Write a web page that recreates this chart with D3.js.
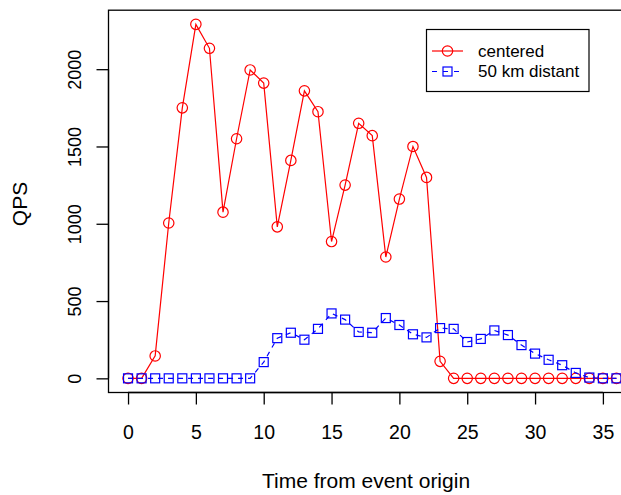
<!DOCTYPE html>
<html>
<head>
<meta charset="utf-8">
<script src="https://cdn.jsdelivr.net/npm/d3@7"></script>
<style>
  html, body { margin: 0; padding: 0; background: #fff; }
  svg { display: block; }
  text { font-family: "Liberation Sans", Arial, Helvetica, sans-serif; fill: #000; }
</style>
</head>
<body>
<svg id="chart" width="621" height="495"></svg>
<script>
// ---- data ----
const times = d3.range(0, 37); // 0..36
const centered = [0, 0, 145, 1005, 1750, 2290, 2135, 1075, 1550, 1995, 1910,
  980, 1410, 1860, 1725, 885, 1250, 1650, 1570, 785, 1160, 1500, 1300, 110,
  0, 0, 0, 0, 0, 0, 0, 0, 0, 0, 0, 0, 0];
const distant = [0, 0, 0, 0, 0, 0, 0, 0, 0, 0, 105, 260, 295, 250, 320, 420,
  380, 300, 295, 390, 345, 285, 265, 325, 320, 235, 255, 310, 280, 215, 160,
  120, 85, 35, 5, 0, 0];
const xTicks = [0, 5, 10, 15, 20, 25, 30, 35];
const yTicks = [0, 500, 1000, 1500, 2000];
const seriesNames = ["centered", "50 km distant"];

// ---- layout ----
const svg = d3.select("#chart");
const xmin = 0, xmax = 36, ymin = 0, ymax = 2290;
const xpad = (xmax - xmin) * 0.04, ypad = (ymax - ymin) * 0.04;
const x = d3.scaleLinear().domain([xmin - xpad, xmax + xpad]).range([108.5, 636]);
const y = d3.scaleLinear().domain([ymin - ypad, ymax + ypad]).range([392.5, 10.2]);

// box
svg.append("rect")
  .attr("x", x.range()[0]).attr("y", y.range()[1])
  .attr("width", x.range()[1] - x.range()[0])
  .attr("height", y.range()[0] - y.range()[1])
  .attr("fill", "none").attr("stroke", "#000").attr("stroke-width", 1.3);

// x axis
const xAxis = d3.axisBottom(x).tickValues(xTicks).tickSize(12).tickPadding(21)
  .tickFormat(d3.format("d"));
const gx = svg.append("g").attr("transform", `translate(0,${y.range()[0]})`).call(xAxis);
gx.select(".domain").attr("d", `M${x(0)},0H${x(35)}`).attr("stroke-width", 1.3);
gx.selectAll(".tick line").attr("stroke-width", 1.3);
gx.selectAll(".tick text").attr("font-size", 19.5).style("font-family", "Liberation Sans, Arial, sans-serif");

// y axis
const yAxis = d3.axisLeft(y).tickValues(yTicks).tickSize(12).tickFormat(d3.format("d"));
const gy = svg.append("g").attr("transform", `translate(${x.range()[0]},0)`).call(yAxis);
gy.select(".domain").attr("d", `M0,${y(0)}V${y(2000)}`).attr("stroke-width", 1.3);
gy.selectAll(".tick line").attr("stroke-width", 1.3);
gy.selectAll(".tick text")
  .attr("x", null).attr("dy", null)
  .attr("transform", "translate(-28,0) rotate(-90)")
  .attr("text-anchor", "middle")
  .attr("font-size", 18).style("font-family", "Liberation Sans, Arial, sans-serif");

// axis titles
svg.append("text").attr("x", 366).attr("y", 488).attr("text-anchor", "middle")
  .attr("font-size", 21).text("Time from event origin");
svg.append("text").attr("transform", "translate(27,204) rotate(-90)")
  .attr("text-anchor", "middle").attr("font-size", 21).text("QPS");

// series
const line = d3.line().x((d, i) => x(times[i])).y(d => y(d));
svg.append("path").datum(centered).attr("d", line)
  .attr("fill", "none").attr("stroke", "#ff0000").attr("stroke-width", 1.2);
svg.append("g").selectAll("circle").data(centered).join("circle")
  .attr("cx", (d, i) => x(times[i])).attr("cy", d => y(d)).attr("r", 5.2)
  .attr("fill", "none").attr("stroke", "#ff0000").attr("stroke-width", 1.2);

svg.append("path").datum(distant).attr("d", line)
  .attr("fill", "none").attr("stroke", "#0000ff").attr("stroke-width", 1.2)
  .attr("stroke-dasharray", "5,5");
const sq = 9;
svg.append("g").selectAll("rect").data(distant).join("rect")
  .attr("x", (d, i) => x(times[i]) - sq / 2).attr("y", d => y(d) - sq / 2)
  .attr("width", sq).attr("height", sq)
  .attr("fill", "none").attr("stroke", "#0000ff").attr("stroke-width", 1.2);

// legend
const lg = svg.append("g");
lg.append("rect").attr("x", 426.5).attr("y", 29.5).attr("width", 162.5).attr("height", 62)
  .attr("fill", "#fff").attr("stroke", "#000").attr("stroke-width", 1.2);
const rows = [
  { name: seriesNames[0], color: "#ff0000", dash: null, shape: "circle", cy: 51 },
  { name: seriesNames[1], color: "#0000ff", dash: "5,5", shape: "square", cy: 71.5 }
];
rows.forEach(r => {
  lg.append("line").attr("x1", 432).attr("x2", 463).attr("y1", r.cy).attr("y2", r.cy)
    .attr("stroke", r.color).attr("stroke-width", 1.2)
    .attr("stroke-dasharray", r.dash ? "5,6" : null);
  if (r.shape === "circle") {
    lg.append("circle").attr("cx", 447.5).attr("cy", r.cy).attr("r", 5.2)
      .attr("fill", "none").attr("stroke", r.color).attr("stroke-width", 1.2);
  } else {
    lg.append("rect").attr("x", 447.5 - sq / 2).attr("y", r.cy - sq / 2)
      .attr("width", sq).attr("height", sq)
      .attr("fill", "none").attr("stroke", r.color).attr("stroke-width", 1.2);
  }
  lg.append("text").attr("x", 478).attr("y", r.cy).attr("dy", "0.35em")
    .attr("font-size", 17).text(r.name);
});
</script>
</body>
</html>
